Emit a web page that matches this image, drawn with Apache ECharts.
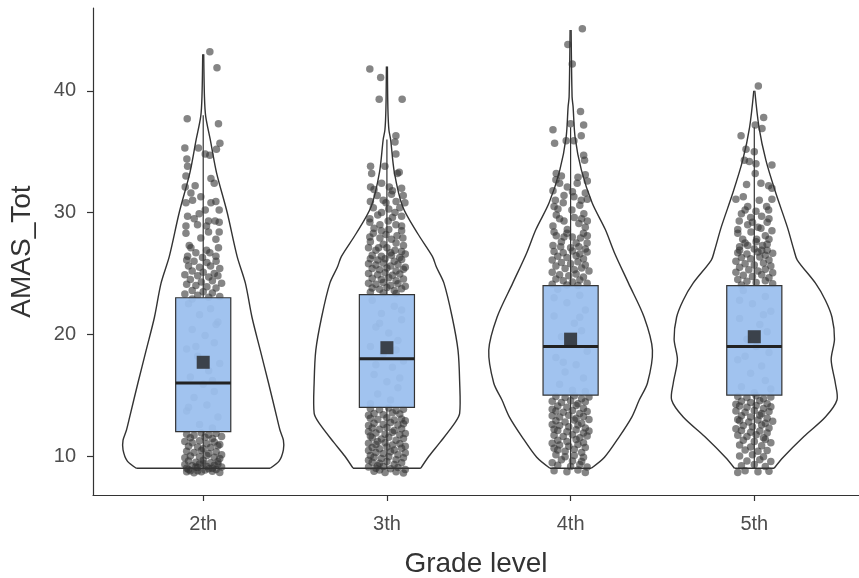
<!DOCTYPE html>
<html>
<head>
<meta charset="utf-8">
<title>AMAS_Tot by grade level</title>
<script src="https://cdn.jsdelivr.net/npm/echarts@6.0.0/dist/echarts.min.js"></script>
<style>
  html, body { margin: 0; padding: 0; background: #fff; }
  #chart { width: 859px; height: 578px; }
</style>
</head>
<body>
<div id="chart"></div>
<script>
// categories and ticks
const grades = ['2th', '3th', '4th', '5th'];
const xTicks = [1, 2, 3, 4];
const yTicks = [10, 20, 30, 40];

// violin outlines: [AMAS_Tot, relative density]
const violin2th = [[9.0,0.81],[9.6,0.92],[10.5,0.97],[11.3,0.97],[12.1,0.93],[13.2,0.89],[16.0,0.79],[18.7,0.69],[21.4,0.59],[24.2,0.51],[26.4,0.41],[30.0,0.29],[33.3,0.16],[36.0,0.085],[37.9,0.03],[39.5,0.015],[43.0,0.006]];
const violin3th = [[9.0,0.41],[10.0,0.51],[11.1,0.64],[12.7,0.82],[13.5,0.88],[16.1,0.88],[18.7,0.86],[21.4,0.79],[24.2,0.69],[25.5,0.60],[26.4,0.55],[28.3,0.37],[30.5,0.19],[33.3,0.09],[36.0,0.045],[36.8,0.024],[38.5,0.012],[42.0,0.006]];
const violin4th = [[9.0,0.25],[9.9,0.41],[11.6,0.59],[13.2,0.74],[14.6,0.83],[16.0,0.93],[18.7,0.99],[21.4,0.89],[24.2,0.70],[26.7,0.53],[28.6,0.42],[30.8,0.26],[33.5,0.13],[36.2,0.054],[38.7,0.03],[39.5,0.018],[45.0,0.006]];
const violin5th = [[9.0,0.24],[9.9,0.35],[11.6,0.60],[13.2,0.86],[14.6,1.0],[16.0,0.98],[17.9,0.93],[19.6,0.97],[21.4,0.94],[22.8,0.86],[24.2,0.74],[26.1,0.52],[26.9,0.48],[28.8,0.40],[31.6,0.26],[34.3,0.14],[37.0,0.057],[40.0,0.006]];

// box stats: [lower whisker, Q1, median, Q3, upper whisker]
const box2th = [9, 12, 16, 23, 38];
const box3th = [9, 14, 18, 23.25, 36];
const box4th = [9, 15, 19, 24, 37];
const box5th = [9, 15, 19, 24, 37];
const means = [17.7, 18.9, 19.6, 19.8];

// jittered scores: [horizontal jitter, AMAS_Tot]
const points2th = [
  [0.036,43.2],[0.075,41.9],[-0.087,37.7],[0.083,37.3],[0.091,35.7],[0.072,35.2],[-0.1,35.3],[-0.026,35.3],[0.011,34.8],[0.036,34.7],[-0.089,34.4],[-0.085,33.8],[-0.094,33.0],[0.042,32.8],[0.06,32.4],[-0.098,32.1],[-0.044,32.2],[-0.067,31.6],[-0.013,31.3],[-0.058,31.0],[0.069,30.9],[0.042,30.8],[-0.094,30.8],[0.011,30.2],[0.087,30.2],[-0.022,29.9],[-0.085,29.7],[-0.049,29.5],[0.029,29.3],[0.065,29.3],[0.087,29.2],[-0.094,28.9],[-0.031,29.0],[0.018,28.9],[0.087,28.4],[-0.094,28.3],[-0.013,27.9],[0.029,28.4],[0.069,27.8],[-0.076,27.3],[-0.067,27.1],[0.018,26.9],[0.083,27.1],[-0.04,26.7],[0.036,26.7],[-0.085,26.4],[-0.004,26.3],[0.069,26.4],
  [-0.09,26.1],[-0.05,26.0],[0.02,25.9],[0.07,26.0],[-0.08,25.6],[-0.02,25.5],[0.04,25.6],[0.09,25.4],[-0.06,25.2],[0.0,25.1],[0.06,25.0],[-0.1,24.9],[-0.03,24.8],[0.03,24.7],[0.08,24.8],[-0.07,24.5],[-0.01,24.3],[0.05,24.4],[0.1,24.2],[-0.09,24.1],[-0.04,24.0],[0.02,23.9],[0.07,23.8],[-0.06,23.6],[0.0,23.5],[0.05,23.4],[-0.1,23.3],[-0.03,23.2],[0.09,23.1],[0.03,23.05],
  [-0.08,22.5],[0.04,22.1],[-0.02,21.6],[0.08,21.0],[-0.06,20.4],[0.01,19.9],[0.06,19.3],[-0.09,18.8],[-0.03,18.2],[0.09,17.6],[0.03,17.0],[-0.07,16.5],[0.0,15.9],[0.06,15.3],[-0.05,14.8],[0.02,14.2],[-0.09,13.7],[0.08,13.2],[-0.02,12.6],[0.05,12.3],[-0.06,22.9],[0.07,20.8],[-0.04,19.0],[0.05,16.2],[-0.08,14.0],
  [-0.09,11.8],[-0.05,11.7],[-0.01,11.9],[0.03,11.75],[0.07,11.85],[0.1,11.6],[-0.07,11.5],[0.01,11.55],[0.05,11.45],
  [-0.1,11.2],[-0.06,11.1],[-0.02,11.25],[0.02,11.0],[0.06,11.15],[0.09,10.95],[-0.08,10.8],[-0.03,10.75],[0.04,10.7],[0.08,10.85],[0.0,10.6],
  [-0.09,10.4],[-0.05,10.3],[-0.01,10.45],[0.03,10.2],[0.07,10.35],[0.1,10.1],[-0.07,10.0],[-0.02,9.95],[0.02,10.05],[0.06,9.9],[-0.1,9.85],[0.09,9.8],
  [-0.08,9.6],[-0.04,9.5],[0.0,9.65],[0.04,9.45],[0.08,9.55],[-0.1,9.3],[-0.06,9.2],[-0.02,9.35],[0.02,9.15],[0.06,9.25],[0.1,9.1],[-0.09,9.0],[-0.03,9.05],[0.03,8.95],
  [-0.07,8.8],[-0.01,8.7],[0.05,8.75],[0.09,8.65],[-0.05,8.62],[0.01,8.85],[-0.09,8.7],[0.07,8.9],[-0.04,9.1],[0.05,9.0],[-0.08,8.9],[0.0,9.4],[0.08,9.35],[-0.03,8.8]
];
const points3th = [
  [-0.093,41.8],[-0.034,41.1],[-0.042,39.3],[0.083,39.3],[0.049,36.3],[0.044,35.8],[0.049,34.8],[-0.089,33.8],[-0.083,33.2],[-0.011,33.8],[0.067,33.3],[0.057,33.2],[-0.089,32.1],[-0.029,32.4],[0.013,32.1],[0.089,31.4],[-0.053,31.4],[0.025,31.5],[-0.005,30.8],[0.098,30.8],[-0.074,30.4],[-0.029,30.0],[0.044,30.0],[-0.093,29.5],[0.007,29.3],[0.08,29.7],[-0.093,29.2],[-0.038,29.0],[0.049,29.0],[0.08,28.9],[-0.074,28.3],[-0.005,28.2],[0.055,28.1],[-0.093,28.0],[-0.038,27.9],[0.025,27.8],[0.087,27.9],[-0.1,27.1],[-0.045,27.1],[0.0,27.1],[0.044,26.9],[0.08,26.8],[-0.08,26.5],[-0.03,26.4],[0.025,26.5],[0.07,26.3],
  [-0.07,31.9],[0.03,31.8],[0.08,32.0],[-0.02,31.0],[0.05,30.9],[-0.09,30.9],[0.01,30.3],[0.07,30.4],[-0.05,29.8],[0.03,29.6],[-0.07,28.7],[0.01,28.6],[0.08,28.5],[-0.03,28.5],[-0.09,27.6],[0.05,27.5],[-0.02,27.4],[0.09,27.3],[-0.06,26.9],[0.02,26.7],[0.1,26.6],
  [-0.09,26.2],[-0.05,26.1],[-0.01,26.2],[0.04,26.0],[0.08,26.15],[-0.1,25.8],[-0.06,25.7],[-0.02,25.85],[0.02,25.6],[0.06,25.75],[0.1,25.5],[-0.08,25.4],[-0.04,25.3],[0.0,25.45],[0.05,25.2],[0.09,25.35],[-0.1,25.0],[-0.05,24.9],[-0.01,25.05],[0.03,24.85],[0.07,24.95],[-0.08,24.6],[-0.03,24.5],[0.01,24.65],[0.05,24.4],[0.09,24.55],[-0.1,24.2],[-0.06,24.1],[-0.02,24.25],[0.02,24.0],[0.06,24.15],[0.1,23.95],[-0.08,23.8],[-0.04,23.7],[0.0,23.85],[0.04,23.6],[0.08,23.75],[-0.09,23.45],[-0.02,23.4],[0.05,23.35],
  [-0.08,22.8],[0.04,22.3],[-0.03,21.7],[0.08,21.2],[-0.06,20.6],[0.01,20.1],[0.06,19.5],[-0.09,19.0],[-0.02,18.4],[0.09,17.8],[0.03,17.3],[-0.07,16.7],[0.0,16.1],[0.06,15.6],[-0.05,15.1],[0.02,14.6],[-0.09,14.3],[0.08,22.0],[-0.04,20.9],[0.05,18.7],[-0.06,17.5],[0.07,16.4],
  [-0.09,13.9],[-0.04,13.8],[0.01,13.95],[0.05,13.75],[0.09,13.85],[-0.07,13.5],[-0.02,13.4],[0.03,13.55],[0.07,13.45],[-0.1,13.35],
  [-0.09,13.1],[-0.05,13.0],[0.0,13.15],[0.04,12.95],[0.08,13.05],[0.1,12.9],[-0.07,12.7],[-0.02,12.6],[0.02,12.75],[0.06,12.55],[-0.1,12.5],[0.09,12.65],
  [-0.08,12.3],[-0.04,12.2],[0.0,12.35],[0.04,12.1],[0.08,12.25],[-0.1,12.0],[-0.06,11.9],[-0.01,11.8],[0.03,11.95],[0.07,11.75],[0.1,11.85],[-0.09,11.65],
  [-0.08,11.5],[-0.03,11.4],[0.01,11.55],[0.05,11.3],[0.09,11.45],[-0.05,11.2],[-0.1,11.05],[-0.06,10.95],[-0.01,11.1],[0.03,10.9],[0.07,11.0],[0.1,10.8],
  [-0.08,10.7],[-0.04,10.6],[0.0,10.75],[0.04,10.5],[0.08,10.65],[-0.1,10.45],[-0.06,10.3],[-0.02,10.2],[0.02,10.35],[0.06,10.1],[0.1,10.25],[-0.09,10.05],
  [-0.07,9.9],[-0.03,9.8],[0.01,9.95],[0.05,9.7],[0.09,9.85],[-0.1,9.65],[-0.08,9.5],[-0.04,9.4],[0.0,9.55],[0.04,9.3],[0.08,9.45],[-0.05,9.2],
  [-0.1,9.1],[-0.06,9.0],[-0.02,9.15],[0.02,8.95],[0.06,9.05],[0.1,8.9],[-0.07,8.75],[-0.01,8.65],[0.05,8.7],[0.09,8.6],[-0.04,8.85]
];
const points4th = [
  [0.064,45.1],[-0.015,43.8],[0.009,42.2],[0.054,38.3],[-0.096,36.8],[0.071,37.2],[0.0,37.3],[0.058,36.3],[-0.087,35.7],[-0.024,35.9],[0.018,35.9],[0.071,34.7],[0.076,34.3],[-0.078,33.2],[0.08,33.1],[0.091,32.6],[-0.06,32.4],[-0.018,32.1],[0.036,32.4],[-0.096,31.8],[-0.036,31.4],[0.018,31.3],[-0.083,31.0],[0.058,31.0],[0.091,31.1],[-0.069,30.3],[0.007,30.2],[0.072,29.9],[-0.078,29.8],[-0.036,29.3],[0.091,29.3],[0.045,29.1],[-0.096,28.9],[-0.018,28.6],[0.08,28.8],[-0.078,28.1],[-0.036,28.0],[0.009,28.0],[0.054,27.9],[0.091,28.1],[-0.096,27.3],[-0.054,27.2],[0.0,27.1],[0.045,27.2],[0.08,27.0],
  [-0.05,33.0],[0.04,32.9],[-0.08,32.7],[0.01,31.7],[0.08,31.6],[-0.04,30.8],[0.05,30.6],[-0.09,30.5],[0.02,29.6],[-0.06,29.5],[0.06,29.5],[-0.02,28.3],[0.07,28.3],[-0.09,28.4],[0.03,27.5],[-0.05,27.6],[0.09,27.5],
  [-0.09,26.8],[-0.04,26.7],[0.01,26.85],[0.05,26.6],[0.09,26.75],[-0.07,26.4],[-0.02,26.3],[0.03,26.45],[0.07,26.2],[-0.1,26.1],[-0.05,25.9],[0.0,25.8],[0.04,25.95],[0.08,25.7],[-0.08,25.6],[-0.03,25.4],[0.02,25.3],[0.06,25.45],[0.1,25.2],[-0.1,25.1],[-0.06,24.9],[-0.01,24.8],[0.03,24.95],[0.07,24.7],[-0.08,24.55],[-0.04,24.4],[0.01,24.3],[0.05,24.45],[0.09,24.2],[-0.1,24.1],[-0.02,24.05],[0.04,24.0],
  [-0.07,23.7],[0.05,23.2],[-0.02,22.6],[0.08,22.0],[-0.09,21.5],[0.02,20.9],[0.06,20.3],[-0.05,19.8],[0.0,19.2],[0.09,18.6],[-0.08,18.1],[0.03,17.5],[-0.03,16.9],[0.07,16.4],[-0.06,15.9],[0.01,15.4],[0.05,21.4],[-0.04,17.7],[0.08,15.3],[-0.09,23.0],
  [-0.08,14.9],[-0.03,14.8],[0.02,14.95],[0.06,14.7],[0.1,14.85],[-0.1,14.5],[-0.05,14.4],[0.0,14.55],[0.04,14.3],[0.08,14.45],
  [-0.07,14.1],[-0.02,14.0],[0.03,14.15],[0.07,13.9],[-0.1,13.85],[-0.08,13.7],[-0.04,13.6],[0.01,13.75],[0.05,13.5],[0.09,13.65],
  [-0.1,13.3],[-0.06,13.2],[-0.01,13.35],[0.03,13.1],[0.07,13.25],[0.1,13.0],[-0.08,12.9],[-0.03,12.8],[0.02,12.95],[0.06,12.7],[-0.1,12.6],
  [-0.06,12.5],[-0.01,12.4],[0.04,12.55],[0.08,12.3],[-0.09,12.2],[-0.07,12.1],[-0.02,12.0],[0.03,12.15],[0.07,11.9],[0.1,12.05],
  [-0.09,11.7],[-0.04,11.6],[0.01,11.75],[0.05,11.5],[0.09,11.65],[-0.07,11.3],[-0.02,11.2],[0.03,11.35],[0.07,11.1],[-0.1,11.05],
  [-0.06,10.9],[-0.01,10.8],[0.04,10.95],[0.08,10.7],[-0.09,10.65],[-0.07,10.5],[-0.03,10.4],[0.02,10.55],[0.06,10.3],
  [-0.08,10.1],[-0.03,9.95],[0.02,10.05],[0.07,9.9],[-0.05,9.7],[0.01,9.6],[0.06,9.55],[-0.1,9.45],
  [-0.07,9.25],[0.0,9.15],[0.05,9.3],[0.09,9.1],[-0.09,8.8],[-0.02,8.7],[0.04,8.85],[0.08,8.65]
];
const points5th = [
  [0.022,40.4],[0.051,37.8],[0.042,36.9],[0.005,37.2],[-0.072,36.3],[-0.045,35.2],[0.0,35.0],[-0.054,34.3],[-0.027,34.2],[0.009,34.0],[0.096,33.9],[0.005,33.2],[-0.042,32.3],[0.036,32.4],[0.078,32.2],[0.096,32.0],[-0.06,31.3],[-0.1,31.1],[0.027,31.0],[0.096,31.1],[-0.036,30.5],[0.067,30.5],[-0.05,30.2],[0.009,30.1],[0.078,30.2],[-0.082,29.3],[-0.01,29.2],[0.07,29.2],[-0.036,29.0],[0.036,28.7],[0.096,28.5],[-0.09,28.3],[-0.018,28.4],[0.06,28.1],[-0.063,27.8],[0.013,27.8],[0.08,27.8],[-0.036,27.3],[0.045,27.3],[-0.08,27.2],[0.0,27.0],[0.07,26.9],
  [-0.07,29.9],[0.04,29.7],[-0.02,29.6],[0.08,29.5],[-0.09,28.6],[0.02,28.8],[-0.05,27.5],[0.07,27.4],[0.01,27.6],[-0.08,26.9],[0.04,26.9],
  [-0.09,26.7],[-0.04,26.6],[0.02,26.75],[0.06,26.5],[0.1,26.65],[-0.07,26.3],[-0.02,26.2],[0.03,26.35],[0.08,26.1],[-0.1,26.0],[-0.05,25.8],[0.0,25.7],[0.05,25.85],[0.09,25.6],[-0.08,25.5],[-0.03,25.3],[0.02,25.2],[0.06,25.35],[-0.1,25.1],[0.1,25.05],[-0.06,24.85],[-0.01,24.75],[0.04,24.9],[0.08,24.65],[-0.09,24.5],[-0.04,24.35],[0.01,24.25],[0.06,24.4],[0.1,24.15],[-0.07,24.05],
  [-0.06,23.6],[0.06,23.1],[-0.01,22.5],[0.09,21.9],[-0.08,21.3],[0.03,20.8],[0.07,20.2],[-0.04,19.6],[0.01,19.0],[0.08,18.5],[-0.09,17.9],[0.04,17.4],[-0.02,16.8],[0.06,16.2],[-0.07,15.7],[0.0,15.2],[0.05,21.6],[-0.05,18.2],[0.09,15.5],[-0.08,22.8],
  [-0.09,14.9],[-0.04,14.8],[0.01,14.95],[0.05,14.7],[0.09,14.85],[-0.07,14.5],[-0.02,14.4],[0.03,14.55],[0.07,14.3],[-0.1,14.25],
  [-0.08,14.1],[-0.04,14.0],[0.01,14.15],[0.05,13.9],[0.09,14.05],[-0.1,13.7],[-0.05,13.6],[0.0,13.75],[0.04,13.5],[0.08,13.65],
  [-0.07,13.3],[-0.02,13.2],[0.03,13.35],[0.07,13.1],[-0.09,13.0],[-0.08,12.9],[-0.03,12.8],[0.02,12.95],[0.06,12.7],[0.1,12.85],
  [-0.06,12.5],[-0.01,12.4],[0.04,12.55],[0.08,12.3],[-0.1,12.25],[-0.07,12.1],[-0.02,11.95],[0.03,12.05],[0.07,11.9],
  [-0.09,11.7],[-0.04,11.6],[0.01,11.75],[0.05,11.5],[-0.06,11.3],[0.0,11.2],[0.06,11.35],[0.09,11.1],
  [-0.08,10.9],[-0.02,10.75],[0.04,10.85],[-0.05,10.5],[0.02,10.4],[0.07,10.45],[-0.08,10.0],[-0.01,10.1],[0.05,9.95],
  [-0.04,9.6],[0.03,9.7],[0.09,9.55],[-0.07,9.2],[0.0,9.3],[0.06,9.15],[-0.05,8.8],[0.02,8.7],[0.08,8.75],[-0.09,8.65]
];

const violins = [violin2th, violin3th, violin4th, violin5th];
const boxes = [box2th, box3th, box4th, box5th];
const pointGroups = [points2th, points3th, points4th, points5th];

const violinHalf = 0.45;
const boxHalf = 0.15;
const ink = '#333333';

// turn jitter offsets into x positions around each grade
const jitterData = [];
pointGroups.forEach((pts, i) => {
  pts.forEach(p => jitterData.push([xTicks[i] + p[0], p[1]]));
});

function renderViolin(params, api) {
  const x = api.value(0);
  const prof = violins[params.dataIndex];
  const right = prof.map(p => api.coord([x + p[1] * violinHalf, p[0]]));
  const left = prof.map(p => api.coord([x - p[1] * violinHalf, p[0]]));
  const st = { stroke: ink, lineWidth: 1.4, fill: 'none' };
  return {
    type: 'group',
    children: [
      { type: 'polyline', shape: { points: right, smooth: 0.3 }, style: st },
      { type: 'polyline', shape: { points: left, smooth: 0.3 }, style: st },
      { type: 'line', shape: { x1: left[0][0], y1: left[0][1], x2: right[0][0], y2: right[0][1] }, style: st }
    ]
  };
}

function renderBox(params, api) {
  const x = api.value(0);
  const b = boxes[params.dataIndex];
  const lo = api.coord([x, b[0]]);
  const hi = api.coord([x, b[4]]);
  const tl = api.coord([x - boxHalf, b[3]]);
  const br = api.coord([x + boxHalf, b[1]]);
  const mL = api.coord([x - boxHalf, b[2]]);
  const mR = api.coord([x + boxHalf, b[2]]);
  return {
    type: 'group',
    children: [
      { type: 'line', shape: { x1: lo[0], y1: lo[1], x2: lo[0], y2: br[1] }, style: { stroke: ink, lineWidth: 1.2 } },
      { type: 'line', shape: { x1: hi[0], y1: hi[1], x2: hi[0], y2: tl[1] }, style: { stroke: ink, lineWidth: 1.2 } },
      { type: 'rect', shape: { x: tl[0], y: tl[1], width: br[0] - tl[0], height: br[1] - tl[1] },
        style: { fill: 'rgba(155,191,238,0.94)', stroke: ink, lineWidth: 1.2 } },
      { type: 'line', shape: { x1: mL[0], y1: mL[1], x2: mR[0], y2: mR[1] }, style: { stroke: '#222', lineWidth: 3 } }
    ]
  };
}

const chart = echarts.init(document.getElementById('chart'));
const font = 'Liberation Sans, Arial, Helvetica, sans-serif';

chart.setOption({
  animation: false,
  backgroundColor: '#ffffff',
  grid: { left: 93, right: 0, top: 8, bottom: 83, outerBoundsMode: 'none', containLabel: false },
  xAxis: {
    type: 'value',
    min: 0.4,
    max: 4.57,
    name: 'Grade level',
    nameLocation: 'middle',
    nameGap: 55,
    nameTextStyle: { fontSize: 28, color: '#333', fontFamily: font },
    axisLine: { show: true, onZero: false, lineStyle: { color: ink, width: 1.2 } },
    axisTick: { show: true, customValues: xTicks, length: 6, lineStyle: { color: ink, width: 1.2 } },
    axisLabel: {
      customValues: xTicks,
      formatter: v => grades[Math.round(v) - 1],
      fontSize: 20, color: '#4d4d4d', fontFamily: font, margin: 19
    },
    splitLine: { show: false }
  },
  yAxis: {
    type: 'value',
    min: 6.8,
    max: 46.8,
    name: 'AMAS_Tot',
    nameLocation: 'middle',
    nameGap: 57,
    nameTextStyle: { fontSize: 28, color: '#333', fontFamily: font },
    axisLine: { show: true, onZero: false, lineStyle: { color: ink, width: 1.2 } },
    axisTick: { show: true, customValues: yTicks, length: 6, lineStyle: { color: ink, width: 1.2 } },
    axisLabel: { customValues: yTicks, fontSize: 20, color: '#4d4d4d', fontFamily: font, margin: 17 },
    splitLine: { show: false }
  },
  series: [
    {
      type: 'custom',
      name: 'violin',
      renderItem: renderViolin,
      data: xTicks.map(x => [x, 20]),
      encode: { x: 0, y: 1 },
      silent: true,
      z: 1
    },
    {
      type: 'scatter',
      name: 'scores',
      data: jitterData,
      symbolSize: 7.5,
      itemStyle: { color: '#333', opacity: 0.6 },
      silent: true,
      z: 2
    },
    {
      type: 'custom',
      name: 'box',
      renderItem: renderBox,
      data: xTicks.map(x => [x, 20]),
      encode: { x: 0, y: 1 },
      silent: true,
      z: 3
    },
    {
      type: 'scatter',
      name: 'mean',
      data: means.map((m, i) => [xTicks[i], m]),
      symbol: 'rect',
      symbolSize: 13,
      itemStyle: { color: '#222' },
      silent: true,
      z: 4
    }
  ]
});
</script>
</body>
</html>
